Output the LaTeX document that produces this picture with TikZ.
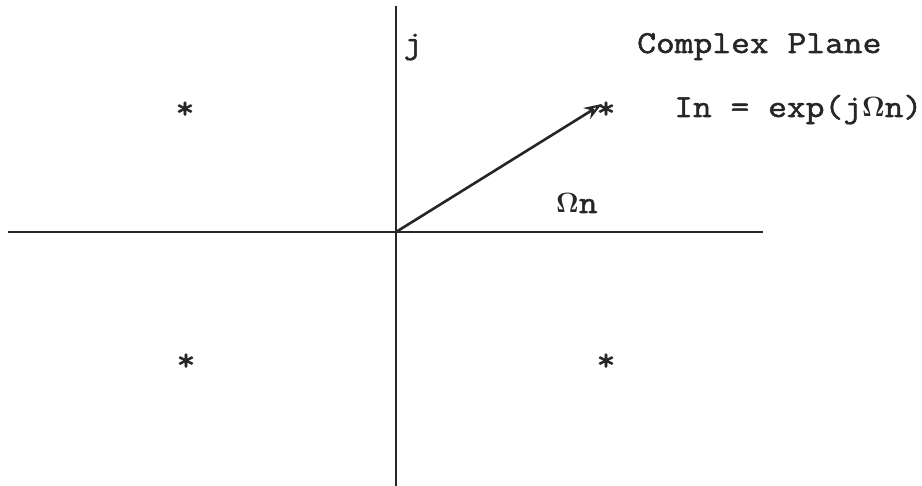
\documentclass[tikz,border=0pt]{standalone}
\usepackage{amsmath}
\usepackage{fontspec}
\newfontfamily\cour{Latin Modern Mono}[FakeStretch=1.14,FakeBold=1.6]
\usetikzlibrary{arrows.meta}
\newcommand{\BOm}{\raisebox{0pt}{\scalebox{1.12}{$\boldsymbol{\Omega}$}}}
\begin{document}
\begin{tikzpicture}[x=1pt,y=-1pt,
  axis/.style={line width=2.6pt,draw=black!85},
  lbl/.style={font=\fontsize{32}{36}\selectfont\cour,inner sep=0pt,text=black!85},
  starnode/.style={font=\fontsize{32}{36}\selectfont\cour,inner sep=0pt,text=black!85},
  vec/.style={line width=2.6pt,draw=black!85,-{Stealth[length=18pt,width=13pt,open,line width=2.2pt]}}]
\useasboundingbox (0,0) rectangle (922,486);
\coordinate (O) at (396,232);
\coordinate (xl) at (8,232);
\coordinate (xr) at (763,232);
\coordinate (yt) at (396,6);
\coordinate (yb) at (396,486);
\draw[axis] (xl) -- (xr);
\draw[axis] (yt) -- (yb);
\node[starnode] (s1) at (185,110) {*};
\node[starnode] (s2) at (606,110) {*};
\node[starnode] (s3) at (186,362) {*};
\node[starnode] (s4) at (606,362) {*};
\coordinate (tip) at (602,104);
\draw[vec] (O) -- (tip);
\node[lbl,anchor=base] (j) at (413,53) {j};
\node[lbl,anchor=base west] (title) at (637,53) {Complex Plane};
\node[lbl,anchor=base west] (eq) at (674,117) {In = exp(j\BOm n)};
\node[lbl,anchor=base west] (om) at (556,213) {\BOm n};
\end{tikzpicture}
\end{document}
